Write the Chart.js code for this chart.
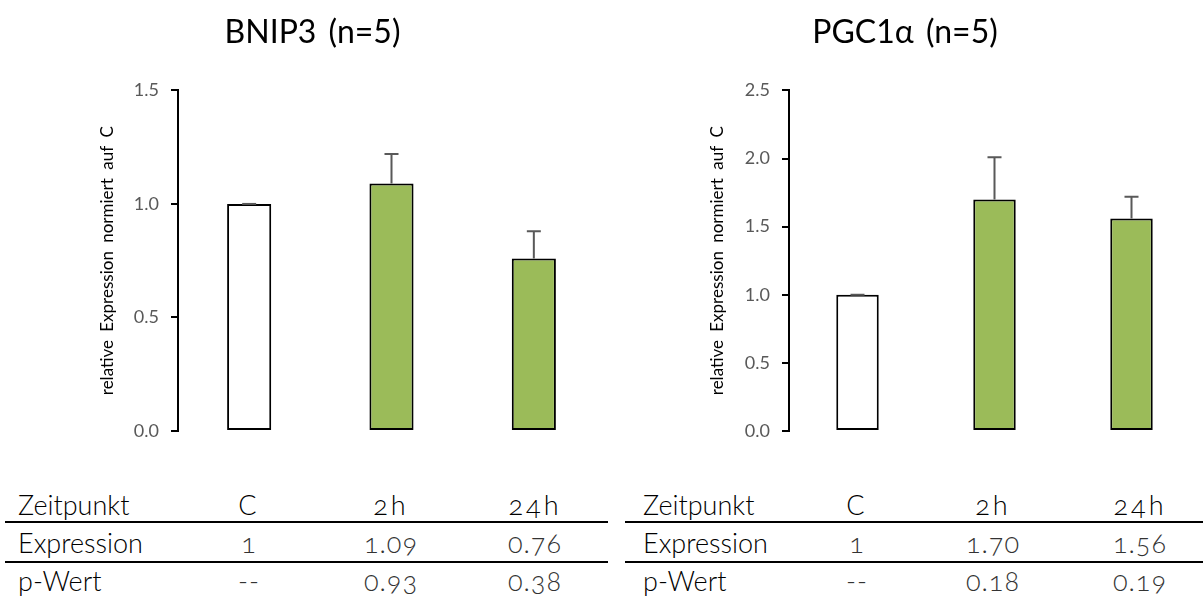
<!DOCTYPE html>
<html>
<head>
<meta charset="utf-8">
<script src="https://cdn.jsdelivr.net/npm/chart.js"></script>
<style>
  body { margin: 0; background: #fff; font-family: Lato, "Open Sans", sans-serif; }
  #page { position: relative; width: 1203px; height: 596px; overflow: hidden; }
  .plot { position: absolute; top: 0; }
  .tbl { position: absolute; top: 486px; font-size: 27px; }
  .cell { position: absolute; white-space: nowrap; line-height: 38px; height: 38px; }
  .head { color: #000; font-weight: 300; }
  .num { color: #333; font-weight: 300; transform: translateX(-50%); font-variant-numeric: oldstyle-nums; letter-spacing: 1px; }
  .rule { position: absolute; height: 2px; background: #000; }
</style>
</head>
<body>
<div id="page">
  <div class="plot" style="left:0;width:610px;height:460px"><canvas id="bnip"></canvas></div>
  <div class="plot" style="left:610px;width:593px;height:460px"><canvas id="pgc"></canvas></div>
  <div class="tbl" id="tblBnip" style="left:0;width:610px"></div>
  <div class="tbl" id="tblPgc" style="left:610px;width:593px"></div>
</div>
<script>
// time points
const timepoints = ['C', '2h', '24h'];

// BNIP3
const bnipExpression = [1, 1.09, 0.76];
const bnipSD = [0, 0.13, 0.12];
const bnipP = ['--', '0.93', '0.38'];

// PGC1alpha
const pgcExpression = [1, 1.70, 1.56];
const pgcSD = [0, 0.31, 0.16];
const pgcP = ['--', '0.18', '0.19'];

const barColors = ['#ffffff', '#9bbb59', '#9bbb59'];

// draws the upper error whisker on every bar
const errorBars = {
  id: 'errorBars',
  beforeDraw(chart) {
    // a bit more room between words, axis title looks cramped otherwise
    chart.ctx.wordSpacing = '4px';
  },
  afterDatasetsDraw(chart) {
    const sd = chart.options.plugins.errorBars.sd;
    const ys = chart.scales.y;
    const ctx = chart.ctx;
    const meta = chart.getDatasetMeta(0);
    const vals = chart.data.datasets[0].data;
    ctx.save();
    ctx.strokeStyle = '#595959';
    ctx.lineWidth = 2;
    meta.data.forEach((bar, i) => {
      const y0 = ys.getPixelForValue(vals[i]);
      const y1 = ys.getPixelForValue(vals[i] + sd[i]);
      ctx.beginPath();
      ctx.moveTo(bar.x, y0);
      ctx.lineTo(bar.x, y1);
      ctx.moveTo(bar.x - 7, y1);
      ctx.lineTo(bar.x + 7, y1);
      ctx.stroke();
    });
    ctx.restore();
  }
};

function makeChart(id, title, values, sd, yMax, padLeft, axisWidth, padRight) {
  return new Chart(document.getElementById(id), {
    type: 'bar',
    data: {
      labels: timepoints,
      datasets: [{
        data: values,
        backgroundColor: barColors,
        borderColor: '#000',
        borderWidth: 2,
        borderSkipped: false,
        barPercentage: 0.31,
        categoryPercentage: 1
      }]
    },
    options: {
      responsive: true,
      maintainAspectRatio: false,
      animation: false,
      layout: { padding: { left: padLeft, right: padRight, bottom: 21 } },
      plugins: {
        legend: { display: false },
        tooltip: { enabled: false },
        title: {
          display: true,
          text: title,
          color: '#000',
          font: { family: 'Lato', size: 32, weight: 'normal' },
          padding: { top: 13, bottom: 39 }
        },
        errorBars: { sd: sd }
      },
      scales: {
        x: {
          ticks: { display: false },
          grid: { display: false },
          border: { display: false }
        },
        y: {
          min: 0,
          max: yMax,
          afterFit(scale) { scale.width = axisWidth; },
          ticks: {
            stepSize: 0.5,
            color: '#595959',
            padding: 12,
            font: { family: 'Lato', size: 18 },
            callback: v => v.toFixed(1)
          },
          grid: { drawOnChartArea: false, drawTicks: true, tickLength: 7, color: '#000', lineWidth: 2 },
          border: { display: true, color: '#000', width: 2 },
          title: {
            display: true,
            text: 'relative Expression normiert auf C',
            color: '#000',
            font: { family: 'Lato', size: 17 },
            padding: { top: 97 - padLeft, bottom: 0 }
          }
        }
      }
    },
    plugins: [errorBars]
  });
}

makeChart('bnip', 'BNIP3 (n=5)', bnipExpression, bnipSD, 1.5, 20, 158, 5);
makeChart('pgc', 'PGC1α (n=5)', pgcExpression, pgcSD, 2.5, 0, 179, 3);

// summary table under each plot
function fmt(v) { return v === 1 ? '1' : v.toFixed(2); }

function makeTable(id, labelX, colX, ruleL, ruleR, values, pvals) {
  const el = document.getElementById(id);
  const rows = [
    ['Zeitpunkt', timepoints],
    ['Expression', values.map(fmt)],
    ['p-Wert', pvals]
  ];
  let html = '';
  rows.forEach((r, ri) => {
    const top = ri * 38;
    html += `<div class="cell head" style="left:${labelX}px;top:${top}px">${r[0]}</div>`;
    r[1].forEach((t, ci) => {
      const extra = ri === 0 ? ';color:#000;letter-spacing:3px' : '';
      html += `<div class="cell num" style="left:${colX[ci]}px;top:${top}px${extra}">${t}</div>`;
    });
  });
  html += `<div class="rule" style="left:${ruleL}px;width:${ruleR - ruleL}px;top:35px"></div>`;
  html += `<div class="rule" style="left:${ruleL}px;width:${ruleR - ruleL}px;top:75px"></div>`;
  el.innerHTML = html;
}

makeTable('tblBnip', 18, [249, 391, 535], 5, 608, bnipExpression, bnipP);
makeTable('tblPgc', 33, [247, 383, 530], 15, 593, pgcExpression, pgcP);
</script>
</body>
</html>
